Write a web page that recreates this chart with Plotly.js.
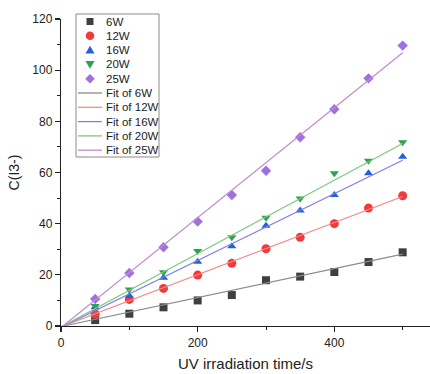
<!DOCTYPE html>
<html>
<head>
<meta charset="utf-8">
<script src="https://cdn.plot.ly/plotly-3.0.1.min.js"></script>
<style>html,body{margin:0;padding:0;background:#fff;}#chart{width:430px;height:374px;}</style>
</head>
<body>
<div id="chart"></div>
<script>
// Data
var times = [50, 100, 150, 200, 250, 300, 350, 400, 450, 500];
var c6W  = [2.3, 4.8, 7.3, 10.0, 12.1, 17.9, 19.3, 21.1, 25.0, 28.8];
var c12W = [4.7, 10.4, 14.7, 19.9, 24.5, 30.2, 34.7, 40.0, 46.1, 50.9];
var c16W = [7.3, 11.8, 18.9, 25.1, 31.2, 39.2, 45.1, 51.2, 59.7, 66.2];
var c20W = [7.8, 14.3, 21.0, 29.3, 34.7, 42.3, 49.8, 59.7, 64.6, 71.8];
var c25W = [10.6, 20.7, 30.8, 40.8, 51.2, 60.7, 73.8, 84.7, 96.8, 109.6];
// Fitted lines: values at the ends of the fit range
var fitX   = [0, 500];
var fit6W  = [-0.2, 28.1];
var fit12W = [-0.3, 50.6];
var fit16W = [-0.5, 64.8];
var fit20W = [-0.4, 71.3];
var fit25W = [-0.6, 106.8];
var seriesNames = ['6W', '12W', '16W', '20W', '25W'];

var font = 'Liberation Sans, Arial, sans-serif';
var mk = [
  {symbol: 'square', color: '#3f3f3f', size: 8},
  {symbol: 'circle', color: '#f23a3a', size: 9},
  {symbol: 'triangle-up', color: '#1f62dc', size: 8},
  {symbol: 'triangle-down', color: '#2e9e58', size: 8},
  {symbol: 'diamond', color: '#a070e0', size: 8}
];
var fitColors = ['#8c8c8c', '#f08a8a', '#7f7fe6', '#7fc87f', '#c48ad0'];
var vals = [c6W, c12W, c16W, c20W, c25W];
var fits = [fit6W, fit12W, fit16W, fit20W, fit25W];

var traces = [];
for (var i = 0; i < 5; i++) {
  traces.push({
    x: times, y: vals[i], type: 'scatter', mode: 'markers', name: seriesNames[i],
    marker: {symbol: mk[i].symbol, color: mk[i].color, size: mk[i].size, line: {width: 0}}
  });
}
for (var j = 0; j < 5; j++) {
  traces.push({
    x: fitX, y: fits[j], type: 'scatter', mode: 'lines', name: 'Fit of ' + seriesNames[j],
    line: {color: fitColors[j], width: 1.2}
  });
}

// ---- legend drawn as a box with shapes + annotations (geometry in pixels) ----
var W = 430, H = 374, mL = 61, mR = 0, mT = 19, mB = 48;
var pw = W - mL - mR, ph = H - mT - mB;
function px(x) { return (x - mL) / pw; }
function py(y) { return (H - mB - y) / ph; }

var shapes = [];
var annotations = [];
shapes.push({type: 'rect', xref: 'paper', yref: 'paper',
  x0: px(76), x1: px(159), y0: py(157), y1: py(14),
  line: {color: '#8a8a8a', width: 1}, fillcolor: '#fff', layer: 'below'});

var rowY0 = 21.5, rowStep = 14.3, symX = 90, textX = 105;
var symPaths = [
  'M -3.5 -3.5 L 3.5 -3.5 L 3.5 3.5 L -3.5 3.5 Z',
  null,
  'M -4.5 -3.5 L 4.5 -3.5 L 0 4.3 Z',
  'M -4.5 3.5 L 4.5 3.5 L 0 -4.3 Z',
  'M 0 -4.8 L 4.8 0 L 0 4.8 L -4.8 0 Z'
];
var labels = [];
for (var k = 0; k < 5; k++) labels.push(seriesNames[k]);
for (var k2 = 0; k2 < 5; k2++) labels.push('Fit of ' + seriesNames[k2]);

for (var r = 0; r < 10; r++) {
  var yy = rowY0 + r * rowStep;
  if (r < 5) {
    if (r === 1) {
      shapes.push({type: 'circle', xref: 'paper', yref: 'paper', xsizemode: 'pixel', ysizemode: 'pixel',
        xanchor: px(symX), yanchor: py(yy), x0: -4.3, x1: 4.3, y0: -4.3, y1: 4.3,
        fillcolor: mk[r].color, line: {width: 0}});
    } else {
      shapes.push({type: 'path', xref: 'paper', yref: 'paper', xsizemode: 'pixel', ysizemode: 'pixel',
        xanchor: px(symX), yanchor: py(yy), path: symPaths[r],
        fillcolor: mk[r].color, line: {width: 0}});
    }
  } else {
    shapes.push({type: 'line', xref: 'paper', yref: 'paper',
      x0: px(78), x1: px(102), y0: py(yy), y1: py(yy),
      line: {color: fitColors[r - 5], width: 1.3}});
  }
  annotations.push({xref: 'paper', yref: 'paper', x: px(textX), y: py(yy),
    xanchor: 'left', yanchor: 'middle', showarrow: false, text: labels[r],
    font: {family: font, size: 11.5, color: '#222'}, borderpad: 0});
}

var axisCommon = {
  showline: true, linecolor: '#222', linewidth: 1.2,
  ticks: 'outside', ticklen: 5, tickwidth: 1.2, tickcolor: '#222',
  showgrid: false, zeroline: false,
  tickfont: {family: font, size: 12, color: '#222'}
};

var layout = {
  width: W, height: H,
  margin: {l: mL, r: mR, t: mT, b: mB},
  paper_bgcolor: '#fff', plot_bgcolor: '#fff',
  font: {family: font, color: '#222'},
  showlegend: false,
  shapes: shapes,
  annotations: annotations,
  xaxis: Object.assign({}, axisCommon, {
    range: [0, 540], tick0: 0, dtick: 200,
    minor: {dtick: 100, ticklen: 3, tickwidth: 1, tickcolor: '#222', ticks: 'outside'},
    title: {text: 'UV irradiation time/s', font: {family: font, size: 15, color: '#222'}, standoff: 10}
  }),
  yaxis: Object.assign({}, axisCommon, {
    range: [0, 120], tick0: 0, dtick: 20,
    minor: {dtick: 10, ticklen: 3, tickwidth: 1, tickcolor: '#222', ticks: 'outside'},
    title: {text: 'C(I3-)', font: {family: font, size: 14, color: '#222'}, standoff: 9}
  })
};

Plotly.newPlot('chart', traces, layout, {displayModeBar: false, staticPlot: true});
</script>
</body>
</html>
